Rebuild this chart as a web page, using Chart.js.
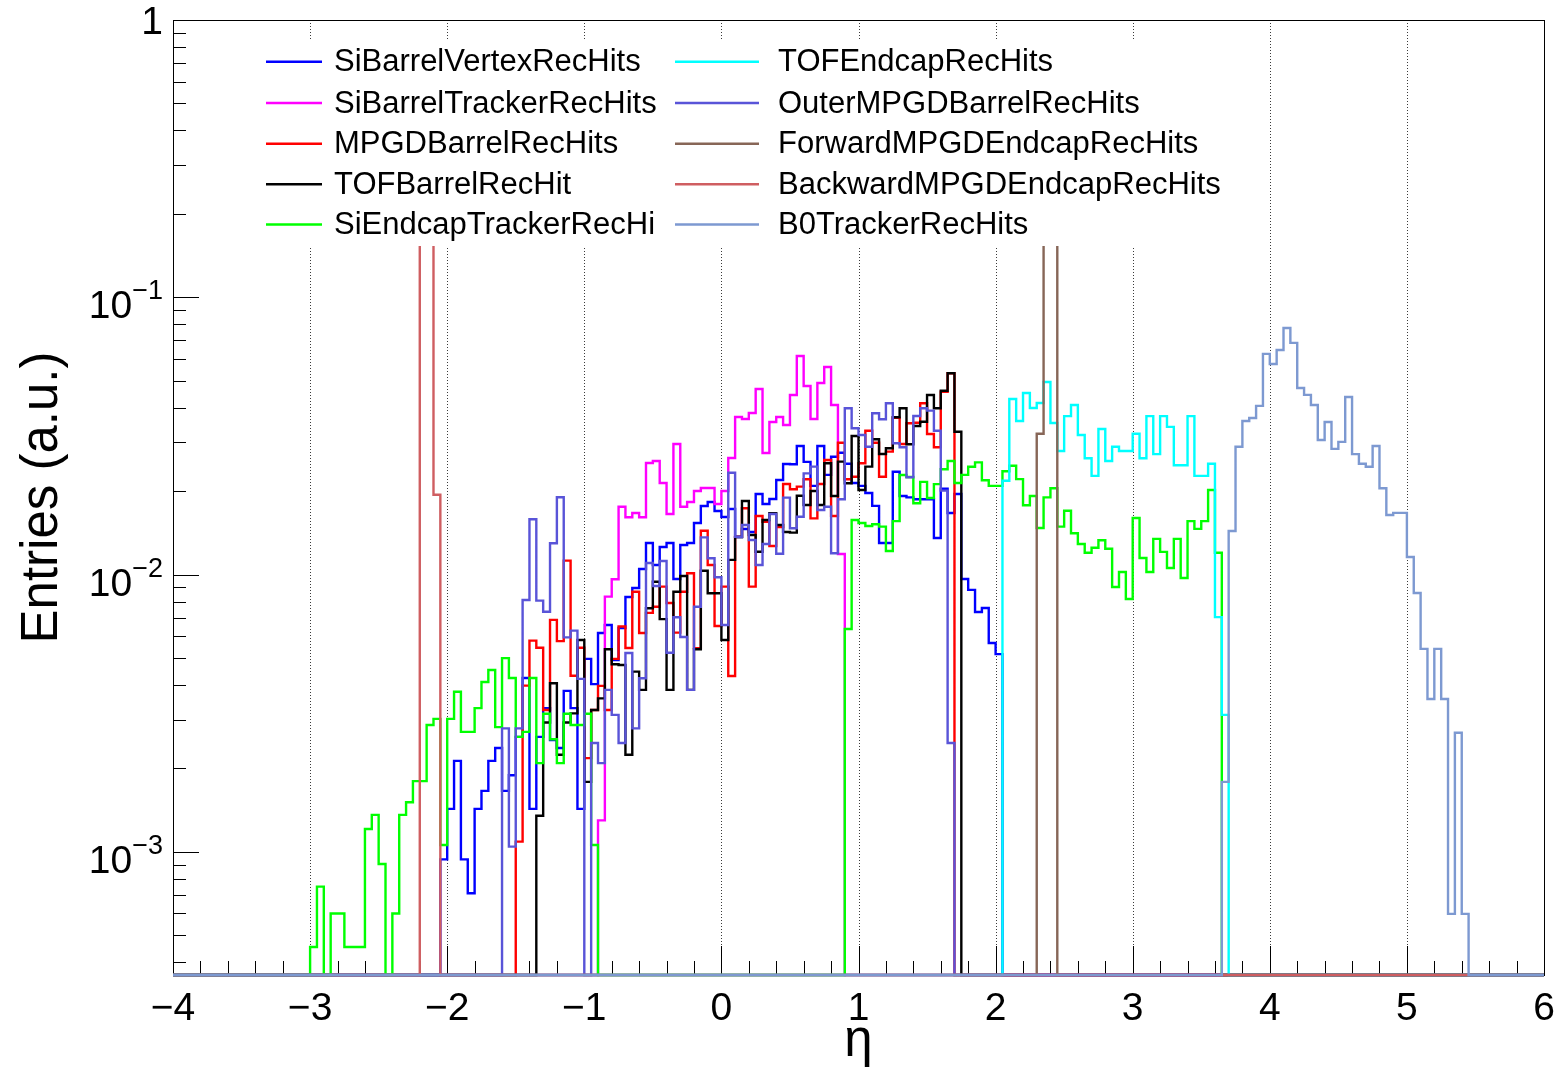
<!DOCTYPE html>
<html>
<head>
<meta charset="utf-8">
<title>Hit pseudorapidity distributions</title>
<script src="https://cdn.jsdelivr.net/npm/chart.js@4.4.1/dist/chart.umd.min.js"></script>
<style>
  html, body { margin: 0; padding: 0; background: #ffffff; }
  #wrap { width: 1564px; height: 1072px; position: relative; }
  canvas { display: block; }
</style>
</head>
<body>
<div id="wrap"><canvas id="chart" width="1564" height="1072"></canvas></div>
<script>
// ---- binning and axis ranges ----
const ETA_MIN = -4;
const ETA_MAX = 6;
const BIN_WIDTH = 0.05;
const Y_MIN = 3.6e-4;
const Y_MAX = 1;

// ---- axis labels ----
const xMajorTicks = [-4, -3, -2, -1, 0, 1, 2, 3, 4, 5, 6];
const xTickLabels = ['\u22124', '\u22123', '\u22122', '\u22121', '0', '1', '2', '3', '4', '5', '6'];
const xGridLines = [-3, -2, -1, 0, 1, 2, 3, 4, 5];
const yDecades = [1e-3, 1e-2, 1e-1, 1];
const yDecadeExponents = ['\u22123', '\u22122', '\u22121', ''];
const xTitle = '\u03b7';
const yTitle = 'Entries (a.u.)';

// ---- series ----
const seriesNames = [
  'SiBarrelVertexRecHits', 'SiBarrelTrackerRecHits', 'MPGDBarrelRecHits', 'TOFBarrelRecHit',
  'SiEndcapTrackerRecHi', 'TOFEndcapRecHits', 'OuterMPGDBarrelRecHits', 'ForwardMPGDEndcapRecHits',
  'BackwardMPGDEndcapRecHits', 'B0TrackerRecHits'
];
const seriesColors = [
  '#0000ff', '#ff00ff', '#ff0000', '#000000', '#00ff00',
  '#00ffff', '#5954d8', '#876657', '#cf5e61', '#7d99d1'
];
// low edge (eta) of the first bin stored in each series array
const firstBinEta = [-2.05, -0.9, -1.5, -1.35, -3.0, 2.05, -1.6, 2.3, -2.2, 3.65];

const siBarrelVertex = [
  9.4e-4, 1.43e-3, 2.13e-3, 9.4e-4, 7.1e-4, 1.43e-3, 1.66e-3, 2.13e-3, 2.37e-3, 1.66e-3,
  1.89e-3, 2.60e-3, 4.24e-3, 1.43e-3, 2.60e-3, 3.30e-3, 2.53e-3, 2.37e-3, 3.81e-3, 3.30e-3,
  1.43e-3, 4.97e-3, 4.03e-3, 6.16e-3, 6.58e-3, 4.92e-3, 6.42e-3, 8.31e-3, 8.95e-3, 1.048e-2,
  1.30e-2, 1.083e-2, 1.258e-2, 1.30e-2, 9.65e-3, 1.279e-2, 1.30e-2, 1.535e-2, 1.768e-2, 1.828e-2,
  1.697e-2, 1.614e-2, 1.725e-2, 1.367e-2, 1.461e-2, 1.425e-2, 1.954e-2, 1.798e-2, 1.874e-2, 2.195e-2,
  2.506e-2, 2.50e-2, 2.91e-2, 2.55e-2, 2.09e-2, 2.91e-2, 2.29e-2, 2.66e-2, 2.75e-2, 2.51e-2,
  2.14e-2, 2.09e-2, 1.97e-2, 1.77e-2, 1.30e-2, 1.30e-2, 2.35e-2, 1.92e-2, 1.90e-2, 1.87e-2,
  1.87e-2, 1.87e-2, 1.356e-2, 2.04e-2, 1.668e-2, 1.954e-2, 9.65e-3, 8.81e-3, 7.33e-3, 7.58e-3,
  5.67e-3, 5.17e-3
];
const siBarrelTracker = [
  1.30e-3, 8.33e-3, 9.62e-3, 1.758e-2, 1.61e-2, 1.668e-2, 1.61e-2, 2.527e-2, 2.569e-2, 2.141e-2,
  1.655e-2, 2.958e-2, 1.758e-2, 1.828e-2, 2.002e-2, 2.053e-2, 2.053e-2, 1.798e-2, 2.002e-2, 2.634e-2,
  3.702e-2, 3.641e-2, 3.827e-2, 4.671e-2, 2.746e-2, 3.552e-2, 3.702e-2, 3.464e-2, 4.444e-2, 6.145e-2,
  4.79e-2, 3.641e-2, 4.911e-2, 5.609e-2, 4.09e-2, 1.187e-2
];
const mpgdBarrel = [
  1.09e-3, 3.98e-3, 5.78e-3, 5.45e-3, 3.25e-3, 6.87e-3, 5.76e-3, 1.123e-2, 4.32e-3, 5.45e-3,
  2.18e-3, 3.25e-3, 3.97e-3, 3.25e-3, 4.97e-3, 6.50e-3, 5.44e-3, 8.68e-3, 6.16e-3, 7.28e-3,
  7.66e-3, 9.05e-3, 7.90e-3, 6.18e-3, 8.68e-3, 1.011e-2, 5.43e-3, 1.44e-2, 1.083e-2, 6.53e-3,
  9.05e-3, 4.31e-3, 1.37e-2, 1.735e-2, 9.05e-3, 1.628e-2, 1.552e-2, 1.269e-2, 1.485e-2, 2.123e-2,
  2.032e-2, 2.076e-2, 2.207e-2, 1.596e-2, 2.123e-2, 2.591e-2, 1.628e-2, 2.99e-2, 2.207e-2, 2.255e-2,
  2.521e-2, 3.304e-2, 2.99e-2, 2.255e-2, 2.776e-2, 3.681e-2, 2.958e-2, 3.513e-2, 3.531e-2, 4.148e-2,
  3.215e-2, 2.878e-2, 4.568e-2, 5.322e-2
];
const tofBarrel = [
  1.35e-3, 2.93e-3, 4.06e-3, 2.24e-3, 2.93e-3, 3.16e-3, 5.81e-3, 1.79e-3, 3.25e-3, 3.58e-3,
  5.38e-3, 4.75e-3, 4.72e-3, 2.24e-3, 4.47e-3, 3.84e-3, 7.56e-3, 9.43e-3, 6.91e-3, 3.84e-3,
  8.68e-3, 9.89e-3, 3.84e-3, 5.38e-3, 1.033e-2, 8.57e-3, 8.57e-3, 5.81e-3, 1.13e-2, 1.367e-2,
  1.843e-2, 1.39e-2, 1.21e-2, 1.574e-2, 1.664e-2, 1.51e-2, 1.425e-2, 1.417e-2, 1.926e-2, 1.783e-2,
  2.002e-2, 1.783e-2, 2.521e-2, 1.921e-2, 2.555e-2, 2.136e-2, 3.162e-2, 2.02e-2, 2.451e-2, 3.076e-2,
  2.723e-2, 2.855e-2, 3.693e-2, 3.98e-2, 2.951e-2, 3.436e-2, 3.561e-2, 4.444e-2, 3.98e-2, 4.605e-2,
  5.322e-2, 3.277e-2
];
const siEndcapTracker = [
  4.54e-4, 7.5e-4, 0, 6.0e-4, 6.0e-4, 4.54e-4, 4.54e-4, 4.54e-4, 1.21e-3, 1.36e-3,
  9.05e-4, 0, 6.0e-4, 1.36e-3, 1.51e-3, 1.80e-3, 1.80e-3, 2.87e-3, 3.02e-3, 1.06e-3,
  3.02e-3, 3.78e-3, 2.71e-3, 2.71e-3, 3.30e-3, 4.10e-3, 4.53e-3, 2.82e-3, 5.00e-3, 4.24e-3,
  2.60e-3, 2.71e-3, 4.24e-3, 2.09e-3, 3.15e-3, 2.55e-3, 2.09e-3, 3.15e-3, 2.87e-3, 2.87e-3,
  3.15e-3, 1.06e-3,
  0, 0, 0, 0, 0, 0, 0, 0, 0, 0,
  0, 0, 0, 0, 0, 0, 0, 0, 0, 0,
  0, 0, 0, 0, 0, 0, 0, 0, 0, 0,
  0, 0, 0, 0, 0, 0,
  6.37e-3, 1.574e-2, 1.535e-2, 1.497e-2, 1.52e-2, 1.49e-2, 1.217e-2, 1.56e-2, 2.287e-2, 2.25e-2,
  1.81e-2, 2.16e-2, 1.89e-2, 2.12e-2, 2.40e-2, 2.57e-2, 2.14e-2, 2.29e-2, 2.45e-2, 2.54e-2,
  2.19e-2, 2.09e-2, 2.09e-2, 2.36e-2, 2.47e-2, 2.21e-2, 1.78e-2, 1.92e-2, 1.473e-2, 1.90e-2,
  2.05e-2, 1.49e-2, 1.70e-2, 1.41e-2, 1.29e-2, 1.20e-2, 1.25e-2, 1.33e-2, 1.24e-2, 9.02e-3,
  1.022e-2, 8.17e-3, 1.60e-2, 1.148e-2, 1.022e-2, 1.346e-2, 1.208e-2, 1.057e-2, 1.346e-2, 9.73e-3,
  1.56e-2, 1.462e-2, 1.56e-2, 2.02e-2, 1.20e-2
];
const tofEndcap = [
  2.18e-2, 4.30e-2, 3.58e-2, 4.52e-2, 3.99e-2, 4.16e-2, 4.95e-2, 3.52e-2, 2.79e-2, 3.73e-2,
  4.09e-2, 3.19e-2, 2.63e-2, 2.27e-2, 3.35e-2, 2.57e-2, 2.89e-2, 2.79e-2, 2.79e-2, 3.22e-2,
  2.63e-2, 3.73e-2, 2.72e-2, 3.73e-2, 3.41e-2, 2.48e-2, 2.48e-2, 3.73e-2, 2.27e-2, 2.27e-2,
  2.51e-2, 7.03e-3, 3.12e-3
];
const outerMpgdBarrel = [
  2.79e-3, 1.045e-3, 2.79e-3, 8.10e-3, 1.583e-2, 8.06e-3, 7.35e-3, 1.297e-2, 1.901e-2, 5.94e-3,
  6.28e-3, 4.21e-3, 0, 2.47e-3, 2.09e-3, 3.84e-3, 3.12e-3, 2.47e-3, 5.22e-3, 2.79e-3,
  4.23e-3, 1.101e-2, 9.10e-3, 1.12e-2, 5.23e-3, 7.02e-3, 5.96e-3, 3.84e-3, 7.66e-3, 1.363e-2,
  1.146e-2, 9.78e-3, 6.58e-3, 2.331e-2, 1.37e-2, 1.51e-2, 1.334e-2, 1.083e-2, 1.29e-2, 1.655e-2,
  1.19e-2, 1.895e-2, 1.47e-2, 1.618e-2, 2.319e-2, 2.451e-2, 1.711e-2, 1.758e-2, 1.194e-2, 1.87e-2,
  3.98e-2, 3.371e-2, 3.188e-2, 2.893e-2, 3.818e-2, 3.632e-2, 4.148e-2, 2.977e-2, 2.878e-2, 2.244e-2,
  3.734e-2, 3.98e-2, 3.902e-2, 3.304e-2, 2.008e-2, 2.47e-3
];
const forwardMpgdEndcap = [3.22e-2, 0.50, 0.47];
const backwardMpgdEndcap = [0.52, 0.46, 1.94e-2];
const b0Tracker = [
  1.79e-3, 1.436e-2, 2.89e-2, 3.58e-2, 3.67e-2, 4.06e-2, 6.25e-2, 5.75e-2, 6.46e-2, 7.75e-2,
  6.85e-2, 4.71e-2, 4.45e-2, 4.09e-2, 3.06e-2, 3.55e-2, 2.84e-2, 3.01e-2, 4.37e-2, 2.72e-2,
  2.51e-2, 2.45e-2, 2.91e-2, 2.05e-2, 1.64e-2, 1.67e-2, 1.67e-2, 1.158e-2, 8.59e-3, 5.40e-3,
  3.56e-3, 5.40e-3, 3.56e-3, 5.98e-4, 2.69e-3, 5.98e-4
];

const seriesValues = [
  siBarrelVertex, siBarrelTracker, mpgdBarrel, tofBarrel, siEndcapTracker,
  tofEndcap, outerMpgdBarrel, forwardMpgdEndcap, backwardMpgdEndcap, b0Tracker
];

// Expand a series into one point per bin low edge over the full eta range.
// Empty bins sit on the lower edge of the log axis, as in a ROOT frame.
function histogramPoints(values, startEta) {
  const nBins = Math.round((ETA_MAX - ETA_MIN) / BIN_WIDTH);
  const start = Math.round((startEta - ETA_MIN) / BIN_WIDTH);
  const pts = [];
  for (let i = 0; i < nBins; i++) {
    const k = i - start;
    const v = (k >= 0 && k < values.length) ? values[k] : 0;
    pts.push({ x: ETA_MIN + i * BIN_WIDTH, y: v > 0 ? v : Y_MIN });
  }
  pts.push({ x: ETA_MAX, y: pts[pts.length - 1].y });
  return pts;
}

const FONT = '"Liberation Sans", Arial, Helvetica, sans-serif';

// Legend box geometry (two columns, five rows)
const LEGEND = {
  x0: 255, y0: 40, x1: 1236, y1: 246,
  rowY: [61.7, 103, 143.8, 184.3, 224.6],
  colLine: [[266, 322], [675, 759]],
  colText: [334, 778],
  font: '31px ' + FONT
};

const rootFramePlugin = {
  id: 'rootFrame',
  beforeDatasetsDraw(chart) {
    const { ctx, chartArea: a, scales: { x, y } } = chart;
    ctx.save();
    // dotted vertical grid
    ctx.strokeStyle = '#3a3a3a';
    ctx.lineWidth = 1;
    ctx.setLineDash([1, 2]);
    for (const g of xGridLines) {
      const px = Math.round(x.getPixelForValue(g)) + 0.5;
      ctx.beginPath();
      ctx.moveTo(px, a.top);
      ctx.lineTo(px, a.bottom);
      ctx.stroke();
    }
    ctx.setLineDash([]);
    // frame
    ctx.strokeStyle = '#000';
    ctx.lineWidth = 1;
    ctx.strokeRect(Math.round(a.left) + 0.5, Math.round(a.top) + 0.5,
                   Math.round(a.right - a.left), Math.round(a.bottom - a.top));
    // x ticks (inward): major every 1, minor every 0.2
    const nx = Math.round((ETA_MAX - ETA_MIN) / 0.2);
    for (let k = 0; k <= nx; k++) {
      const v = ETA_MIN + k * 0.2;
      const px = Math.round(x.getPixelForValue(v)) + 0.5;
      const len = (k % 5 === 0) ? 29 : 14;
      ctx.beginPath();
      ctx.moveTo(px, a.bottom);
      ctx.lineTo(px, a.bottom - len);
      ctx.stroke();
    }
    // y ticks (inward): decades and 2..9 sub-divisions
    for (let e = -4; e <= 0; e++) {
      for (let m = 1; m <= 9; m++) {
        const v = m * Math.pow(10, e);
        if (v < Y_MIN * 0.999 || v > Y_MAX * 1.001) continue;
        const py = Math.round(y.getPixelForValue(v)) + 0.5;
        const len = (m === 1) ? 26 : 13;
        ctx.beginPath();
        ctx.moveTo(a.left, py);
        ctx.lineTo(a.left + len, py);
        ctx.stroke();
      }
    }
    ctx.restore();
  },
  afterDatasetsDraw(chart) {
    const { ctx, chartArea: a, scales: { x, y } } = chart;
    ctx.save();
    ctx.fillStyle = '#000';

    // x tick labels
    ctx.font = '39px ' + FONT;
    ctx.textAlign = 'center';
    ctx.textBaseline = 'alphabetic';
    xMajorTicks.forEach((v, i) => {
      ctx.fillText(xTickLabels[i], x.getPixelForValue(v), 1020);
    });

    // y tick labels: 10 with exponent
    yDecades.forEach((v, i) => {
      const py = y.getPixelForValue(v);
      const right = 163;
      const exp = yDecadeExponents[i];
      if (!exp) {
        ctx.font = '39px ' + FONT;
        ctx.textAlign = 'right';
        ctx.fillText('1', right, py + 14);
        return;
      }
      ctx.font = '27px ' + FONT;
      const ew = ctx.measureText(exp).width;
      ctx.textAlign = 'left';
      ctx.fillText(exp, right - ew, py + 2);
      ctx.font = '39px ' + FONT;
      ctx.textAlign = 'right';
      ctx.fillText('10', right - ew, py + 21);
    });

    // axis titles
    ctx.font = '51px ' + FONT;
    ctx.textAlign = 'center';
    ctx.fillText(xTitle, (a.left + a.right) / 2, 1056);
    ctx.save();
    ctx.translate(57, (a.top + a.bottom) / 2);
    ctx.rotate(-Math.PI / 2);
    ctx.fillText(yTitle, 0, 0);
    ctx.restore();

    // legend
    ctx.fillStyle = '#ffffff';
    ctx.fillRect(LEGEND.x0, LEGEND.y0, LEGEND.x1 - LEGEND.x0, LEGEND.y1 - LEGEND.y0);
    ctx.font = LEGEND.font;
    ctx.textAlign = 'left';
    ctx.textBaseline = 'middle';
    seriesNames.forEach((name, i) => {
      const col = i < 5 ? 0 : 1;
      const row = i % 5;
      const ly = LEGEND.rowY[row];
      ctx.strokeStyle = seriesColors[i];
      ctx.lineWidth = 2.5;
      ctx.beginPath();
      ctx.moveTo(LEGEND.colLine[col][0], ly);
      ctx.lineTo(LEGEND.colLine[col][1], ly);
      ctx.stroke();
      ctx.fillStyle = '#000';
      ctx.fillText(name, LEGEND.colText[col], ly + 1);
    });
    ctx.restore();
  }
};

const datasets = seriesNames.map((name, i) => ({
  label: name,
  data: histogramPoints(seriesValues[i], firstBinEta[i]),
  borderColor: seriesColors[i],
  backgroundColor: seriesColors[i],
  borderWidth: 2.4,
  stepped: true,
  tension: 0,
  fill: false,
  pointRadius: 0,
  pointHoverRadius: 0,
  borderJoinStyle: 'miter',
  borderCapStyle: 'butt',
  clip: { left: 0, top: 0, right: 0, bottom: 2 },
  order: seriesNames.length - i
}));

new Chart(document.getElementById('chart'), {
  type: 'line',
  data: { datasets },
  options: {
    responsive: false,
    animation: false,
    devicePixelRatio: 1,
    parsing: false,
    normalized: true,
    layout: { padding: { left: 0, right: 20, top: 20, bottom: 0 } },
    plugins: {
      legend: { display: false },
      tooltip: { enabled: false },
      title: { display: false }
    },
    scales: {
      x: {
        type: 'linear',
        min: ETA_MIN,
        max: ETA_MAX,
        ticks: { display: false },
        grid: { display: false },
        border: { display: false },
        afterFit(scale) { scale.height = 97; }
      },
      y: {
        type: 'logarithmic',
        min: Y_MIN,
        max: Y_MAX,
        ticks: { display: false },
        grid: { display: false },
        border: { display: false },
        afterFit(scale) { scale.width = 173; }
      }
    }
  },
  plugins: [rootFramePlugin]
});
</script>
</body>
</html>
